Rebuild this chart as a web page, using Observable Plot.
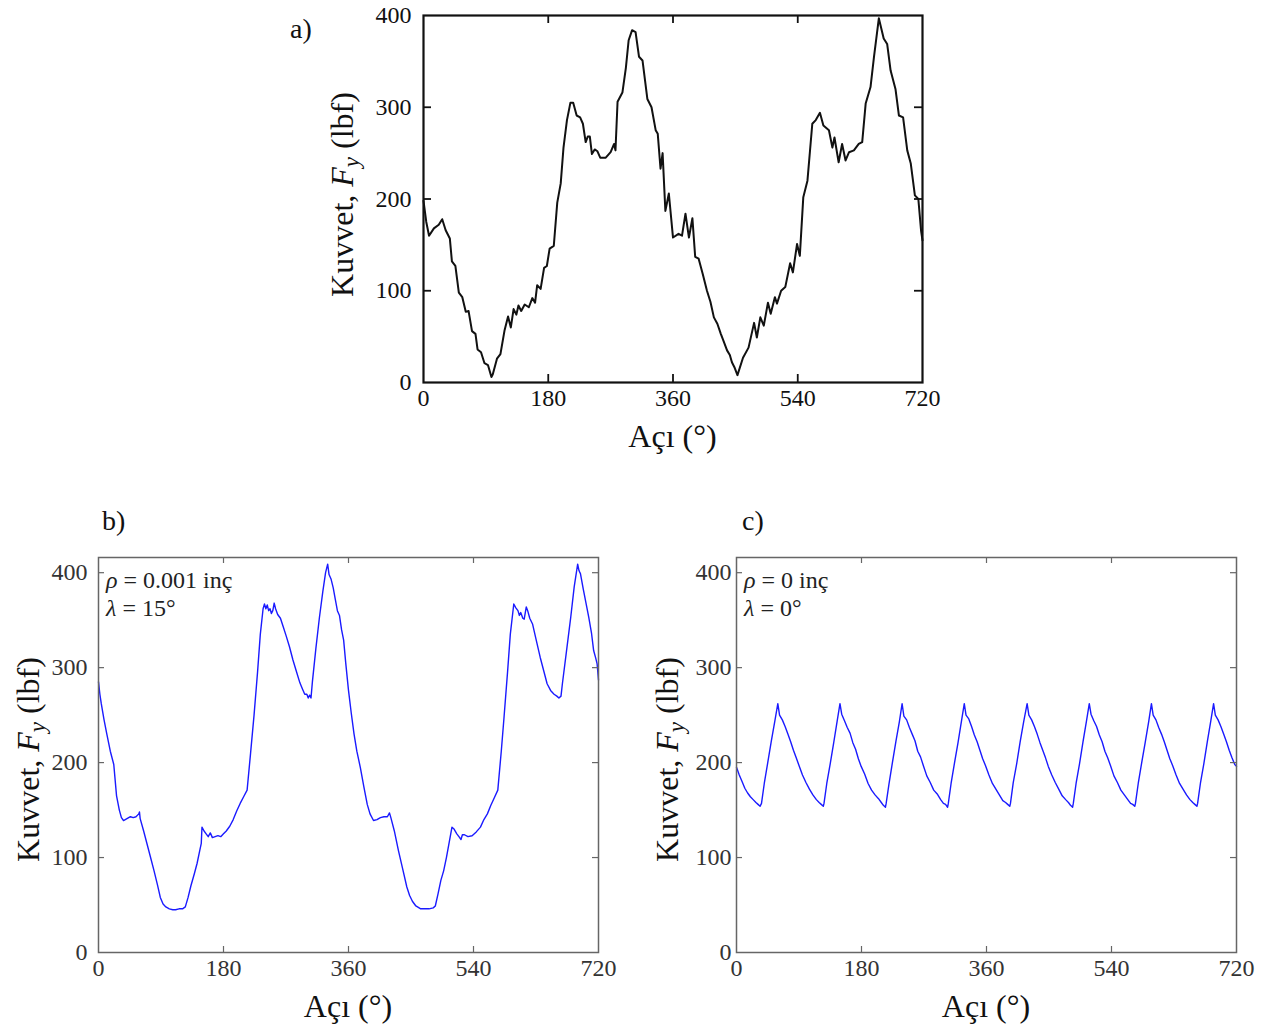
<!DOCTYPE html>
<html><head><meta charset="utf-8">
<script src="https://cdn.jsdelivr.net/npm/d3@7"></script>
<script src="https://cdn.jsdelivr.net/npm/@observablehq/plot@0.6"></script>
<style>
body{margin:0;background:#fff;}
#page{position:relative;width:1266px;height:1030px;overflow:hidden;background:#fff;}
.panel{position:absolute;}
</style></head><body><div id="page"></div>
<script>
// ---------- data ----------
const xTicks = [0, 180, 360, 540, 720];
const yTicks = [0, 100, 200, 300, 400];

// panel a) measured force (black)
const angleA = [0,4,8,15,22,27,32,38,41,46,51,56,61,65,70,75,78,83,88,93,98,100,106,111,117,122,126,130,134,137,141,146,152,157,161,164,169,174,178,182,188,193,198,202,207,212,216,221,226,230,234,237,240,243,247,251,255,263,270,275,277,280,287,292,296,301,306,311,316,323,329,335,338,342,345,349,354,360,368,373,378,383,388,392,397,403,409,414,419,424,429,433,438,442,445,449,453,461,469,477,481,486,491,497,501,507,510,516,522,529,533,539,543,548,554,561,566,572,577,585,590,593,599,604,609,614,621,628,633,638,645,650,657,664,669,674,681,686,692,698,703,709,714,718,720];
const forceA = [198,175,160,168,172,178,166,157,132,127,98,93,77,78,56,53,36,33,21,19,6,9,26,31,57,72,60,80,74,84,78,85,82,92,87,106,102,125,127,146,149,196,217,256,286,305,305,291,289,282,262,268,268,249,254,252,245,245,251,260,253,306,316,343,373,384,382,355,351,309,300,275,271,233,250,187,206,158,162,160,184,158,179,137,135,118,100,88,71,64,53,45,35,30,22,16,8,27,38,65,49,71,62,87,75,93,86,100,104,130,120,151,138,202,220,282,286,294,280,275,256,267,240,260,242,251,253,260,262,304,322,355,397,375,369,340,320,291,289,253,239,204,200,165,155];

// panel b) rho = 0.001 in, lambda = 15 deg (blue)
const angleB = [0,2,4,8,12,17,22,26,30,33,36,41,46,50,54,58,59,60,65,70,75,80,85,89,93,97,102,107,111,116,121,125,129,133,138,142,146,148,149,152,155,158,161,164,168,172,176,180,184,189,194,199,204,209,214,219,224,229,233,237,239,241,243,245,247,249,251,253,255,258,262,266,270,275,280,285,290,294,297,300,302,304,306,308,313,318,323,327,330,332,335,338,341,344,347,350,353,356,360,364,368,372,377,382,387,391,396,401,406,411,416,419,421,426,432,438,444,448,452,457,464,470,476,482,485,489,493,497,501,505,509,512,516,519,522,524,527,532,538,544,550,555,560,565,570,575,580,584,589,593,598,601,604,606,608,611,613,616,618,621,625,630,636,641,646,651,656,660,663,666,668,674,680,685,690,692,694,698,702,706,710,713,716,718,720];
const forceB = [285,272,262,245,230,212,198,165,150,142,139,141,143,142,143,146,148,141,128,114,100,86,71,58,51,48,46,45,45,46,46,48,58,70,83,94,108,115,132,128,125,122,126,121,122,123,122,125,128,133,140,149,157,164,171,210,250,295,335,362,367,362,366,360,362,357,360,368,362,356,352,343,334,322,308,296,284,277,272,272,268,271,268,285,320,352,380,400,409,398,393,384,372,360,355,340,329,305,276,252,230,212,195,175,156,146,139,140,142,143,143,147,142,128,107,88,69,60,54,49,46,46,46,47,49,62,76,86,100,116,132,130,125,122,119,124,124,122,123,127,132,140,146,155,163,171,212,248,295,335,367,363,360,355,358,352,351,364,360,352,346,330,311,297,283,276,272,270,268,270,283,318,353,385,409,402,399,383,368,353,336,318,310,304,287];

// panel c) rho = 0 in, lambda = 0 deg (blue)
const angleC = [0,4,8,12,16,20,24,28,31,34,36,40,45,50,55,59.5,62,66,70,74,78,82,86,90,95,100,105,110,115,119,122,125,126,130,135,140,145,149,151.5,155.5,159.5,163.5,167.5,171.5,175.5,179.5,184.5,189.5,194.5,199.5,204.5,208.5,211.5,214.5,215.5,219.5,224.5,229.5,234.5,238.5,241,245,249,253,257,261,265,269,274,279,284,289,294,298,301,304,305,309,314,319,324,328,330.5,334.5,338.5,342.5,346.5,350.5,354.5,358.5,363.5,368.5,373.5,378.5,383.5,387.5,390.5,393.5,394.5,398.5,403.5,408.5,413.5,418.5,421,425,429,433,437,441,445,449,454,459,464,469,474,478,481,484,485,489,494,499,504,508,510.5,514.5,518.5,522.5,526.5,530.5,534.5,538.5,543.5,548.5,553.5,558.5,563.5,567.5,570.5,573.5,574.5,578.5,583.5,588.5,593.5,597.5,600,604,608,612,616,620,624,628,633,638,643,648,653,657,660,663,664,668,673,678,683,687,689.5,693.5,697.5,701.5,705.5,709.5,713.5,717.5,720];
const forceC = [195,187,180,173,168,164,161,158,156,154,157,178,200,222,243,262,250,245,238,230,222,213,205,197,187,179,172,166,161,158,156,154,157,178,199,221,244,262,251,244,237,231,221,214,204,196,188,178,171,166,162,158,155,153,157,177,200,222,243,262,249,245,237,230,223,212,206,197,186,179,171,167,161,157,156,153,157,178,200,221,244,262,250,246,238,229,222,213,204,197,187,178,172,166,160,158,156,154,157,179,199,222,243,262,250,245,238,230,221,213,205,196,187,179,172,165,161,158,155,153,157,178,199,222,244,262,251,244,238,229,222,212,205,197,186,179,171,166,161,157,156,154,157,178,200,221,243,262,250,245,237,230,222,213,204,197,187,178,172,166,161,158,156,154,157,178,199,222,244,262,250,245,238,230,222,213,205,198,196];

// ---------- drawing ----------
const FONT = "'Liberation Serif','Times New Roman',serif";
const page = document.getElementById("page");

function drawPanel(cfg) {
  const data = cfg.angles.map((a, i) => ({a, f: cfg.forces[i]}));
  const W = cfg.frameW, H = cfg.frameH;
  const svg = Plot.plot({
    width: cfg.marginLeft + W + cfg.marginRight,
    height: cfg.marginTop + H + cfg.marginBottom,
    marginLeft: cfg.marginLeft, marginRight: cfg.marginRight,
    marginTop: cfg.marginTop, marginBottom: cfg.marginBottom,
    style: {fontFamily: FONT, fontSize: cfg.tickFont + "px", color: cfg.tickColor, background: "transparent", overflow: "visible"},
    x: {domain: [0, 720]},
    y: {domain: cfg.yDomain},
    marks: [
      Plot.line(data, {x: "a", y: "f", stroke: cfg.lineColor, strokeWidth: cfg.lineWidth, strokeLinejoin: "round"}),
      Plot.tickX(xTicks.slice(1, -1), {x: d => d, stroke: cfg.frameColor, strokeWidth: cfg.tickWidth, insetTop: H - cfg.tickLen}),
      Plot.tickX(xTicks.slice(1, -1), {x: d => d, stroke: cfg.frameColor, strokeWidth: cfg.tickWidth, insetBottom: H - cfg.tickLen}),
      Plot.tickY(cfg.innerYTicks, {y: d => d, stroke: cfg.frameColor, strokeWidth: cfg.tickWidth, insetRight: W - cfg.tickLen}),
      Plot.tickY(cfg.innerYTicks, {y: d => d, stroke: cfg.frameColor, strokeWidth: cfg.tickWidth, insetLeft: W - cfg.tickLen}),
      Plot.frame({stroke: cfg.frameColor, strokeWidth: cfg.frameWidth}),
      Plot.axisX(xTicks, {anchor: "bottom", tickSize: 0, tickPadding: cfg.xPad, label: null, fill: cfg.tickColor}),
      Plot.axisY(yTicks, {anchor: "left", tickSize: 0, tickPadding: cfg.yPad, label: null, fill: cfg.tickColor})
    ]
  });
  const s = d3.select(svg);
  const cx = cfg.marginLeft + W / 2, cy = cfg.marginTop + H / 2;
  s.append("text").attr("x", cx + (cfg.xTitleDx || 0)).attr("y", cfg.marginTop + H + cfg.xTitleOff)
    .attr("text-anchor", "middle").attr("font-size", cfg.titleFont).attr("fill", "#111")
    .attr("font-family", FONT).text("Açı (°)");
  const yt = s.append("text")
    .attr("transform", `translate(${cfg.marginLeft - cfg.yTitleOff},${cy + (cfg.yTitleDy || 0)}) rotate(-90)`)
    .attr("text-anchor", "middle").attr("font-size", cfg.titleFont).attr("fill", "#111").attr("font-family", FONT);
  yt.append("tspan").text("Kuvvet, ");
  yt.append("tspan").attr("font-style", "italic").text("F");
  yt.append("tspan").attr("font-style", "italic").attr("font-size", cfg.titleFont * 0.72).attr("dy", 6).text("y");
  yt.append("tspan").attr("dy", -6).text(" (lbf)");
  s.append("text").attr("x", cfg.letterX).attr("y", cfg.letterY).attr("font-size", cfg.letterFont)
    .attr("text-anchor", "start").attr("fill", "#111").attr("font-family", FONT).text(cfg.letter);
  if (cfg.rho) {
    const ax = cfg.marginLeft + 8, ay = cfg.marginTop + 31;
    const t1 = s.append("text").attr("x", ax).attr("y", ay).attr("font-size", cfg.annFont)
      .attr("text-anchor", "start").attr("fill", "#222").attr("font-family", FONT);
    t1.append("tspan").attr("font-style", "italic").text("ρ");
    t1.append("tspan").text(" = " + cfg.rho);
    const t2 = s.append("text").attr("x", ax).attr("y", ay + 28).attr("font-size", cfg.annFont)
      .attr("text-anchor", "start").attr("fill", "#222").attr("font-family", FONT);
    t2.append("tspan").attr("font-style", "italic").text("λ");
    t2.append("tspan").text(" = " + cfg.lambda);
  }
  const div = document.createElement("div");
  div.className = "panel";
  div.style.left = cfg.left + "px";
  div.style.top = cfg.top + "px";
  div.appendChild(svg);
  page.appendChild(div);
}

const common = {
  frameW: 500, frameH: 395, marginTop: 67, marginBottom: 78, marginLeft: 98, marginRight: 30,
  yDomain: [0, 416], innerYTicks: [100, 200, 300, 400],
  lineColor: "#1a1aff", lineWidth: 1.4, frameColor: "#666", frameWidth: 1.5, tickWidth: 1.2, tickLen: 6,
  tickColor: "#333", tickFont: 24, titleFont: 32, annFont: 24, letterFont: 28,
  xPad: 6, xTitleOff: 65, letterY: 40
};

drawPanel({
  angles: angleA, forces: forceA,
  left: 280, top: 0, frameW: 499, frameH: 367, marginTop: 15, marginBottom: 78, marginLeft: 143, marginRight: 44,
  yDomain: [0, 400], innerYTicks: [100, 200, 300],
  lineColor: "#111", lineWidth: 2, frameColor: "#111", frameWidth: 2.2, tickWidth: 1.8, tickLen: 8,
  tickColor: "#111", tickFont: 24, titleFont: 32, letterFont: 28,
  xPad: 6, yPad: 12, xTitleOff: 65, yTitleOff: 70, yTitleDy: -4,
  letter: "a)", letterX: 10, letterY: 38
});

drawPanel(Object.assign({}, common, {
  angles: angleB, forces: forceB,
  left: 0, top: 490, yPad: 11, yTitleOff: 59, yTitleDy: 5,
  letter: "b)", letterX: 102, rho: "0.001 inç", lambda: "15°"
}));

drawPanel(Object.assign({}, common, {
  angles: angleC, forces: forceC,
  left: 638, top: 490, marginRight: 30, yPad: 5, yTitleOff: 58, yTitleDy: 5,
  letter: "c)", letterX: 104, rho: "0 inç", lambda: "0°"
}));
</script>
</body></html>
